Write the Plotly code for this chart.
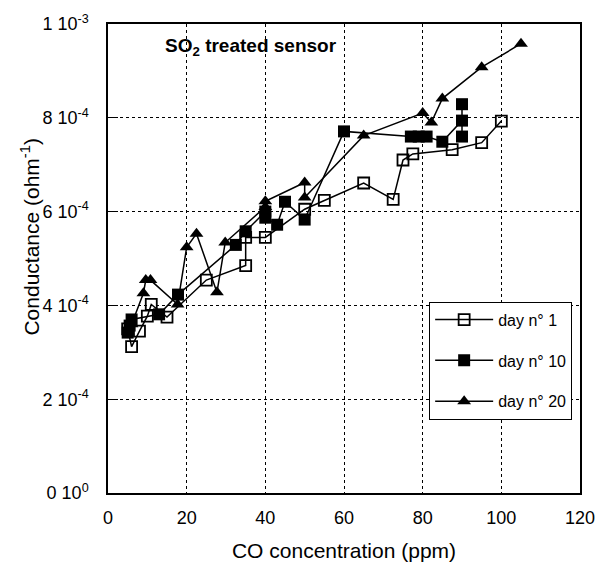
import plotly.graph_objects as go

# Data (x: CO ppm, y: conductance ohm^-1)
day1_x = [5, 6, 8, 10, 11, 15, 25, 35, 35, 40, 50, 55, 65, 72.5, 75, 77.5, 87.5, 95, 100]
day1_y = [3.5e-4, 3.12e-4, 3.45e-4, 3.77e-4, 4.02e-4, 3.75e-4, 4.54e-4, 4.85e-4, 5.45e-4,
          5.45e-4, 6.05e-4, 6.24e-4, 6.61e-4, 6.26e-4, 7.1e-4, 7.23e-4, 7.32e-4, 7.47e-4, 7.93e-4]

day10_x = [5, 5.5, 6, 13, 17.8, 32.5, 35, 40, 40, 43, 45, 50, 60, 77, 79, 81, 85, 90, 90, 90]
day10_y = [3.42e-4, 3.57e-4, 3.7e-4, 3.81e-4, 4.23e-4, 5.29e-4, 5.58e-4, 6.0e-4, 5.87e-4,
           5.72e-4, 6.21e-4, 5.83e-4, 7.71e-4, 7.6e-4, 7.6e-4, 7.6e-4, 7.49e-4, 7.94e-4,
           8.29e-4, 7.6e-4]

day20_x = [6, 9, 9.6, 10.8, 17.7, 20, 22.5, 27.7, 29.8, 40, 40, 50, 50, 65, 80, 82.2, 85, 95, 105]
day20_y = [3.6e-4, 4.26e-4, 4.54e-4, 4.54e-4, 4.02e-4, 5.24e-4, 5.53e-4, 4.28e-4, 5.34e-4,
           6.1e-4, 6.22e-4, 6.62e-4, 6.3e-4, 7.62e-4, 8.1e-4, 7.9e-4, 8.41e-4, 9.08e-4, 9.58e-4]

y_tickvals = [0, 2e-4, 4e-4, 6e-4, 8e-4, 1e-3]
y_ticktext = ["0 10<sup>0</sup>", "2 10<sup>-4</sup>", "4 10<sup>-4</sup>", "6 10<sup>-4</sup>",
              "8 10<sup>-4</sup>", "1 10<sup>-3</sup>"]
x_tickvals = [0, 20, 40, 60, 80, 100, 120]

FONT = "Liberation Sans, Arial, sans-serif"

fig = go.Figure()
fig.add_trace(go.Scatter(
    x=day1_x, y=day1_y, mode="lines+markers", name="day n° 1", legendgroup="a",
    line=dict(color="black", width=1.5),
    marker=dict(symbol="square-open", size=11, color="black", line=dict(width=1.8)),
))
fig.add_trace(go.Scatter(
    x=day10_x, y=day10_y, mode="lines+markers", name="day n° 10", legendgroup="b",
    line=dict(color="black", width=1.5),
    marker=dict(symbol="square", size=12, color="black"),
))
fig.add_trace(go.Scatter(
    x=day20_x, y=day20_y, mode="lines+markers", name="day n° 20", legendgroup="c",
    line=dict(color="black", width=1.5),
    marker=dict(symbol="triangle-up", size=12, color="black"),
))

fig.add_annotation(
    text="<b>SO<sub>2</sub> treated sensor</b>", xref="paper", yref="paper",
    x=0.302, y=0.95, xanchor="center", yanchor="middle", showarrow=False,
    font=dict(family=FONT, size=19, color="black"),
)
fig.add_annotation(
    text="Conductance (ohm<sup>-1</sup>)", xref="paper", yref="paper",
    x=-0.166, y=0.546, xanchor="center", yanchor="middle", textangle=-90,
    showarrow=False, font=dict(family=FONT, size=21, color="black"),
)

fig.update_layout(
    width=607, height=574,
    margin=dict(l=108, r=14, t=13, b=81),
    paper_bgcolor="white", plot_bgcolor="white",
    font=dict(family=FONT, size=15, color="black"),
    showlegend=True,
    legend=dict(
        x=0.6804, y=0.408, xanchor="left", yanchor="top",
        bordercolor="black", borderwidth=1, bgcolor="white",
        font=dict(family=FONT, size=16, color="black"),
        tracegroupgap=17, itemwidth=58,
    ),
    xaxis=dict(
        range=[0, 120], tickvals=x_tickvals, showline=True, linecolor="black", linewidth=1.5,
        mirror=True, ticks="", showgrid=True, gridcolor="black", griddash="dot", gridwidth=1,
        zeroline=False, tickfont=dict(size=18), ticklabelstandoff=8,
        ticklabeloverflow="allow",
        title=dict(text="CO concentration (ppm)", font=dict(size=21), standoff=16),
    ),
    yaxis=dict(
        range=[0, 1e-3], tickvals=y_tickvals, ticktext=y_ticktext, showline=True,
        linecolor="black", linewidth=1.5, mirror=True, ticks="inside", ticklen=10,
        tickcolor="black", showgrid=True, gridcolor="black", griddash="dot", gridwidth=1,
        zeroline=False, tickfont=dict(size=18), ticklabelstandoff=14,
        ticklabeloverflow="allow",
    ),
)

fig.write_html("out.html")
